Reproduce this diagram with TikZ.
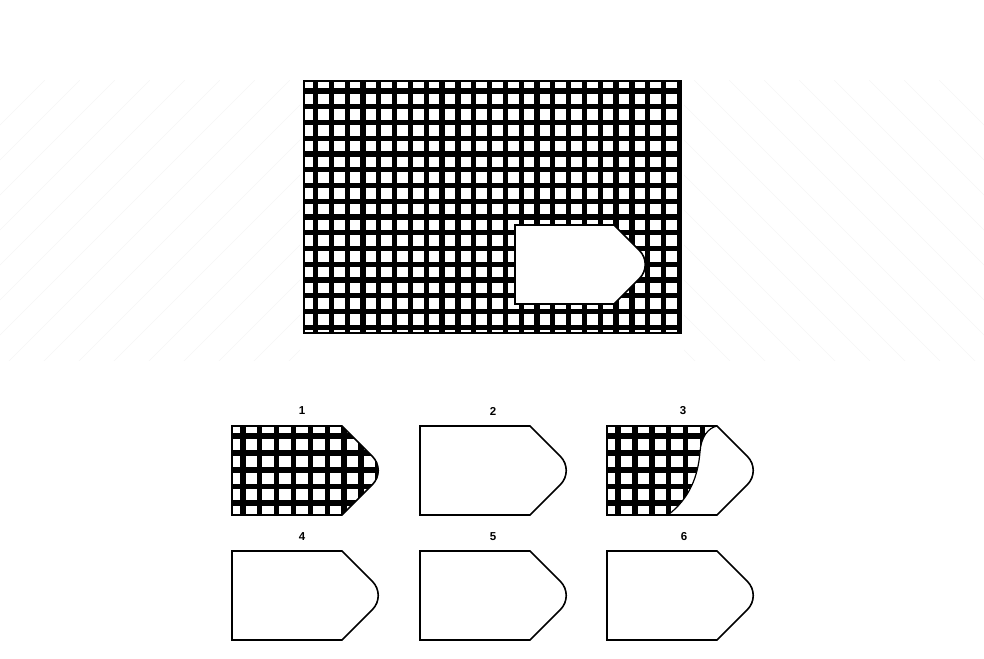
\documentclass[tikz,border=0pt]{standalone}
\usepackage{fontspec}
\setmainfont{Liberation Sans}
\usepackage{tikz}
\usetikzlibrary{positioning}

% tag shaped piece: left x, top y, body width, height
\newcommand{\tagpath}[4]{(#1,#2) -- ++(#3,0) -- ++({#4/2-14.14},{#4/2-14.14})
  arc[start angle=-45, end angle=45, radius=20]
  -- ++({-(#4/2-14.14)},{#4/2-14.14}) -- ++(-#3,0) -- cycle}

\begin{document}
\begin{tikzpicture}[
        x=1pt, y=-1pt,
        outline/.style = {draw=black, line width=1.6pt, line join=miter},
        hole/.style = {white, line width=0pt},
        faint/.style = {black!4, line width=0.5pt},
        numlabel/.style = {font=\bfseries\fontsize{11.5}{11.5}\selectfont, inner sep=0pt},
    ]
    \useasboundingbox (0,0) rectangle (984,658);

    % watermark lines
    \begin{scope}
        \clip (0,80) rectangle (300,360);
        \foreach \k in {0,...,15} \draw[faint] (45+35*\k,80) -- ++(-300,300);
    \end{scope}
    \begin{scope}
        \clip (684,80) rectangle (984,360);
        \foreach \k in {0,...,15} \draw[faint] (939-35*\k,80) -- ++(300,300);
    \end{scope}

    % main pattern
    \begin{scope}
        \clip (304,81) rectangle (681,333);
        \fill[black] (304,81) rectangle (681,333);
        \foreach \i in {0,...,24} \foreach \j in {0,...,16}
            \fill[hole] (302.3+15.82*\i,77.8+15.75*\j) rectangle ++(10.6,10.6);
    \end{scope}
    \draw[black, line width=2pt] (304,81) rectangle (681,333);
    \fill[white] \tagpath{515}{225}{99}{79};
    \draw[outline] \tagpath{515}{225}{99}{79};

    % option 1
    \begin{scope}
        \clip \tagpath{232}{426}{110}{89};
        \fill[black] (220,420) rectangle (400,520);
        \foreach \i in {0,...,9} \foreach \j in {0,...,5}
            \fill[hole] (228.6+16.9*\i,422.4+16.7*\j) rectangle ++(11.4,11);
    \end{scope}
    \draw[outline] \tagpath{232}{426}{110}{89};

    % option 2
    \draw[outline] \tagpath{420}{426}{110}{89};

    % option 3
    \begin{scope}
        \clip \tagpath{607}{426}{110}{89};
        \fill[black] (595,420) rectangle (775,520);
        \foreach \i in {0,...,9} \foreach \j in {0,...,5}
            \fill[hole] (603.8+16.9*\i,422.4+16.7*\j) rectangle ++(11.4,11);
        \fill[white] (717,426) .. controls (708,428) and (701,437) .. (700,452)
            .. controls (698,476) and (690,498) .. (668,515) -- (760,515) -- (760,426) -- cycle;
    \end{scope}
    \draw[outline, line width=1.2pt] (717,426) .. controls (708,428) and (701,437) .. (700,452)
            .. controls (698,476) and (690,498) .. (668,515);
    \draw[outline] \tagpath{607}{426}{110}{89};

    % options 4 to 6
    \draw[outline] \tagpath{232}{551}{110}{89};
    \draw[outline] \tagpath{420}{551}{110}{89};
    \draw[outline] \tagpath{607}{551}{110}{89};

    % labels
    \node[numlabel] (l1) at (302,411) {1};
    \node[numlabel] (l2) at (493,411) {2};
    \node[numlabel] (l3) at (683,411) {3};
    \node[numlabel] (l4) at (302,537) {4};
    \node[numlabel] (l5) at (493,537) {5};
    \node[numlabel] (l6) at (684,537) {6};
\end{tikzpicture}
\end{document}
